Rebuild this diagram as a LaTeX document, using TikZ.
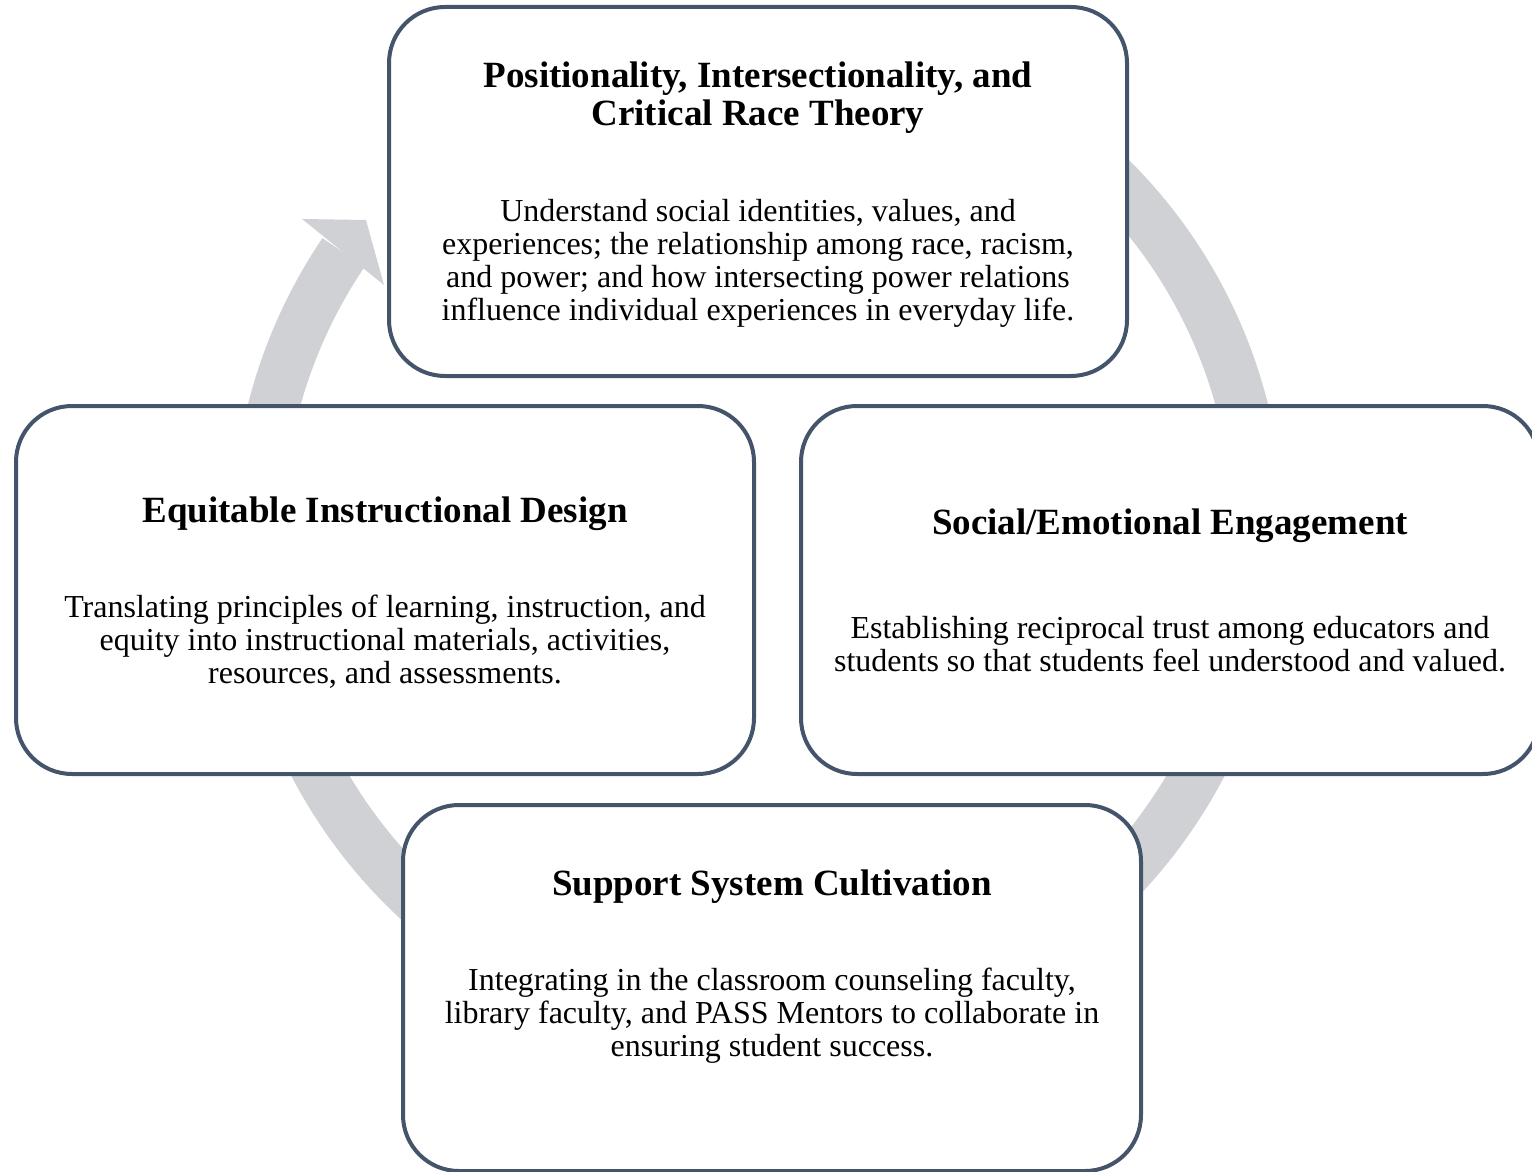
\documentclass[tikz,border=0pt]{standalone}
\usepackage{fontspec}
\setmainfont{Liberation Serif}
\definecolor{boxline}{HTML}{44546A}
\definecolor{ringgray}{HTML}{D0D1D5}
\begin{document}
\begin{tikzpicture}[x=0.5pt,y=-0.5pt,
  cbox/.style={draw=boxline, line width=2pt, fill=white, rounded corners=28pt, minimum width=369pt, minimum height=184pt, inner sep=0pt},
  ttl/.style={font=\bfseries\fontsize{18.5}{19}\selectfont, align=center, anchor=base, inner sep=0pt},
  txt/.style={font=\fontsize{16}{16.5}\selectfont, align=center, anchor=base, inner sep=0pt}]
\useasboundingbox (0,0) rectangle (1532,1172);
\coordinate (c) at (758,533);
\draw[ringgray, line width=25.5pt] (c) ++(-460:500.5) arc[start angle=-460, end angle=-145.9, radius=500.5];
\fill[ringgray] (302,219) -- (366,220) -- (384,285) -- cycle;
\node[cbox, minimum height=184.5pt] (top) at (758,191.5) {};
\node[cbox] (left) at (385,590) {};
\node[cbox] (right) at (1170,590) {};
\node[cbox, minimum height=183pt] (bottom) at (772,988) {};
\node[ttl] (topT) at (758,126) {Positionality, Intersectionality, and\\Critical Race Theory};
\node[txt] (topB) at (758,320) {Understand social identities, values, and\\experiences; the relationship among race, racism,\\and power; and how intersecting power relations\\influence individual experiences in everyday life.};
\node[ttl] (leftT) at (385,522) {Equitable Instructional Design};
\node[txt] (leftB) at (385,683) {Translating principles of learning, instruction, and\\equity into instructional materials, activities,\\resources, and assessments.};
\node[ttl] (rightT) at (1170,534) {Social/Emotional Engagement};
\node[txt] (rightB) at (1170,671) {Establishing reciprocal trust among educators and\\students so that students feel understood and valued.};
\node[ttl] (botT) at (772,895) {Support System Cultivation};
\node[txt] (botB) at (772,1056) {Integrating in the classroom counseling faculty,\\library faculty, and PASS Mentors to collaborate in\\ensuring student success.};
\end{tikzpicture}
\end{document}
